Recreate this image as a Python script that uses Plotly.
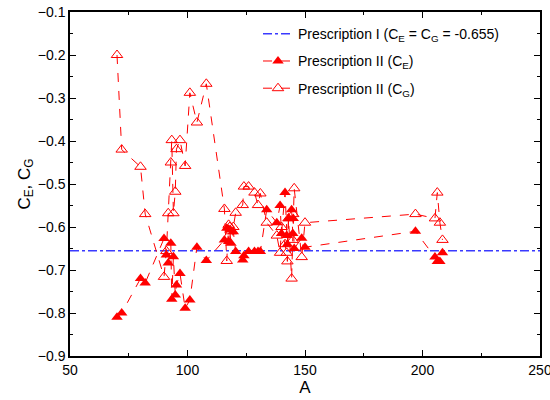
import plotly.graph_objects as go

A_vals = [70, 72, 80, 82,
          90, 91, 91.8, 92.9, 93.3, 94, 94.8, 95.3, 96.8, 99, 101, 104, 108,
          115.7, 116.7, 117.5, 118, 118.5, 119.5, 120.5, 123.5, 124, 126, 128.5, 130, 131,
          133.7, 138, 139.4, 140, 141.5, 142.2, 142.5, 143, 144.3, 144.8, 145, 145.4, 148.6, 150,
          197, 205.3, 206.3, 207.4, 208.5]
CE_vals = [-0.81, -0.80, -0.72, -0.73,
           -0.627, -0.665, -0.684, -0.638, -0.768, -0.669, -0.758, -0.735, -0.708, -0.789, -0.77, -0.647, -0.678,
           -0.63, -0.603, -0.634, -0.607, -0.638, -0.611, -0.657, -0.677, -0.667, -0.657, -0.657, -0.657, -0.657,
           -0.56, -0.59, -0.55, -0.615, -0.52, -0.62, -0.64, -0.58, -0.56, -0.615, -0.58, -0.65, -0.626, -0.647,
           -0.61, -0.67, -0.68, -0.68, -0.66]
CG_vals = [-0.20, -0.42, -0.46, -0.57,
           -0.716, -0.656, -0.568, -0.45, -0.398, -0.568, -0.518, -0.419, -0.398, -0.458, -0.288, -0.357, -0.267,
           -0.558, -0.679, -0.595, -0.60, -0.61, -0.60, -0.567, -0.549, -0.506, -0.506, -0.52, -0.549, -0.522,
           -0.59, -0.62, -0.66, -0.60, -0.64, -0.66, -0.68, -0.58, -0.72, -0.63, -0.57, -0.51, -0.67, -0.59,
           -0.57, -0.58, -0.52, -0.59, -0.63]
presc1_x = [50, 250]
presc1_c = -0.655

FONT = "Liberation Sans"

fig = go.Figure()
fig.add_trace(go.Scatter(
    x=presc1_x, y=[presc1_c] * len(presc1_x), mode="lines", legendgroup="g1",
    name="Prescription I (C<sub>E</sub> = C<sub>G</sub> = -0.655)",
    line=dict(color="#3a3aff", width=1.5, dash="dashdot")))
fig.add_trace(go.Scatter(
    x=A_vals, y=CE_vals, mode="lines+markers", legendgroup="g2",
    name="Prescription II (C<sub>E</sub>)",
    line=dict(color="#ff0000", width=1, dash="dash"),
    marker=dict(symbol="triangle-up", size=10, color="#ff0000")))
fig.add_trace(go.Scatter(
    x=A_vals, y=CG_vals, mode="lines+markers", legendgroup="g3",
    name="Prescription II (C<sub>G</sub>)",
    line=dict(color="#ff0000", width=1, dash="dash"),
    marker=dict(symbol="triangle-up-open", size=10, color="#ff0000",
                line=dict(width=1, color="#ff0000"))))

axis_common = dict(showline=True, linecolor="black", linewidth=1.5, mirror="allticks",
                   ticks="inside", ticklen=6, tickwidth=1.2, tickcolor="black",
                   showgrid=False, zeroline=False, automargin=False,
                   ticklabeloverflow="allow",
                   tickfont=dict(family=FONT, size=14, color="black"))
fig.update_xaxes(range=[50, 250], dtick=50, tick0=50,
                 minor=dict(ticks="inside", dtick=25, ticklen=3, tickcolor="black"),
                 title=dict(text="A", font=dict(family=FONT, size=17, color="black"), standoff=4),
                 **axis_common)
fig.update_yaxes(range=[-0.9, -0.1], dtick=0.1, tick0=-0.9, tickformat=".1f",
                 minor=dict(ticks="inside", dtick=0.05, ticklen=3, tickcolor="black"),
                 title=dict(text="C<sub>E</sub>, C<sub>G</sub>",
                            font=dict(family=FONT, size=17, color="black"), standoff=3),
                 **axis_common)
fig.update_layout(
    width=550, height=400,
    margin=dict(l=70, r=10, t=12, b=44),
    plot_bgcolor="white", paper_bgcolor="white",
    font=dict(family=FONT, color="black"),
    legend=dict(x=0.4, y=0.982, xanchor="left", yanchor="top",
                bgcolor="rgba(0,0,0,0)", borderwidth=0,
                font=dict(family=FONT, size=14, color="black"),
                tracegroupgap=6),
    showlegend=True)

fig.write_html("out.html")
